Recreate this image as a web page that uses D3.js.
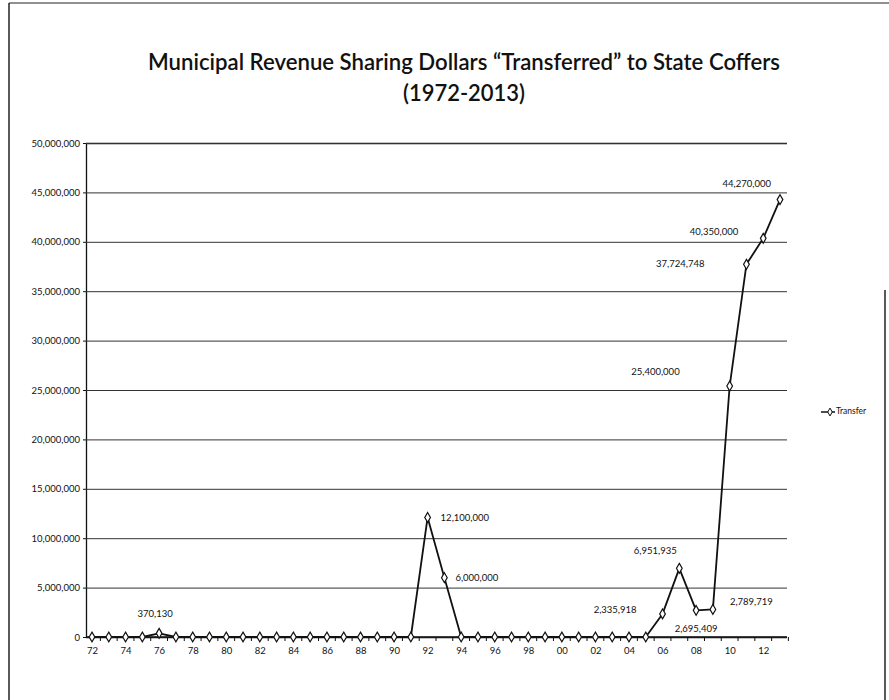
<!DOCTYPE html>
<html>
<head>
<meta charset="utf-8">
<script src="https://cdn.jsdelivr.net/npm/d3@7"></script>
<style>
  body { margin: 0; background: #fff; }
  svg text { font-family: Lato, "Open Sans", sans-serif; fill: #111; }
</style>
</head>
<body>
<div id="chart"></div>
<script>
// years 1972..2013
const years = d3.range(1972, 2014);
const transfer = [
  0, 0, 0, 0, 370130, 0, 0, 0, 0, 0,          // 72-81
  0, 0, 0, 0, 0, 0, 0, 0, 0, 0,               // 82-91
  12100000, 6000000, 0, 0, 0, 0, 0, 0, 0, 0,  // 92-01
  0, 0, 0, 0, 2335918, 6951935, 2695409, 2789719, 25400000, 37724748, // 02-11
  40350000, 44270000                           // 12-13
];
const labelledYears = [1976, 1992, 1993, 2006, 2007, 2008, 2009, 2010, 2011, 2012, 2013];
const yTicks = d3.range(0, 50000001, 5000000);
const xTickYears = years.filter(y => y % 2 === 0);
const seriesName = 'Transfer';

// where Excel put each data label, relative to its point
const labelPlace = {
  1976: { dx: -4, dy: -19, anchor: 'middle' },
  1992: { dx: 13, dy: 1, anchor: 'start' },
  1993: { dx: 11, dy: 1, anchor: 'start' },
  2006: { dx: -26, dy: -3, anchor: 'end' },
  2007: { dx: -24, dy: -17, anchor: 'middle' },
  2008: { dx: 0, dy: 19, anchor: 'middle' },
  2009: { dx: 17, dy: -7, anchor: 'start' },
  2010: { dx: -50, dy: -13, anchor: 'end' },
  2011: { dx: -42, dy: 0, anchor: 'end' },
  2012: { dx: -25, dy: -6, anchor: 'end' },
  2013: { dx: -9, dy: -15, anchor: 'end' }
};

const width = 889, height = 700;
const plot = { left: 86, right: 787, top: 143, bottom: 637 };

const svg = d3.select('#chart').append('svg')
  .attr('width', width)
  .attr('height', height);

// scanned page frame
const frame = svg.append('g').attr('stroke', '#222').attr('fill', 'none');
frame.append('line').attr('x1', 9).attr('x2', 889).attr('y1', 3).attr('y2', 3).attr('stroke-width', 1.2);
frame.append('line').attr('x1', 9).attr('x2', 9).attr('y1', 3).attr('y2', 700).attr('stroke-width', 1.5);
frame.append('line').attr('x1', 885).attr('x2', 885).attr('y1', 290).attr('y2', 700).attr('stroke-width', 1.5);

// title
const title = svg.append('g').attr('text-anchor', 'middle').attr('font-weight', 600);
title.append('text')
  .attr('x', 464).attr('y', 70)
  .attr('font-size', 23)
  .attr('textLength', 632).attr('lengthAdjust', 'spacingAndGlyphs')
  .text('Municipal Revenue Sharing Dollars \u201CTransferred\u201D to State Coffers');
title.append('text')
  .attr('x', 464).attr('y', 101)
  .attr('font-size', 23)
  .attr('textLength', 122).attr('lengthAdjust', 'spacingAndGlyphs')
  .text('(1972-2013)');

const x = d3.scalePoint()
  .domain(years)
  .range([92, 780]);

const y = d3.scaleLinear()
  .domain([0, 50000000])
  .range([plot.bottom, plot.top]);

// gridlines + y axis
const yAxis = d3.axisLeft(y)
  .tickValues(yTicks)
  .tickSize(-(plot.right - plot.left))
  .tickPadding(6)
  .tickFormat(d3.format(','));

const gy = svg.append('g')
  .attr('transform', `translate(${plot.left},0)`)
  .call(yAxis);
gy.select('.domain').attr('stroke', '#111').attr('stroke-width', 1.3);
gy.selectAll('.tick line').attr('stroke', '#333').attr('stroke-width', 1);
gy.selectAll('.tick text').attr('font-size', 9.5).attr('fill', '#111');
// short outside ticks
gy.selectAll('.tick').append('line')
  .attr('x1', -3).attr('x2', 0)
  .attr('stroke', '#111');

// x axis
const half = (x(1973) - x(1972)) / 2;
const xAxis = d3.axisBottom(x)
  .tickValues(xTickYears)
  .tickSize(0)
  .tickPadding(10)
  .tickFormat(d => String(d % 100).padStart(2, '0'));

const gx = svg.append('g')
  .attr('transform', `translate(0,${plot.bottom})`)
  .call(xAxis);
gx.select('.domain').remove();
gx.selectAll('.tick text').attr('font-size', 9.5).attr('fill', '#111');
gx.append('line')
  .attr('x1', plot.left).attr('x2', plot.right)
  .attr('stroke', '#111').attr('stroke-width', 1.3);
gx.selectAll('.cat-tick')
  .data(years)
  .join('line')
  .attr('class', 'cat-tick')
  .attr('x1', d => x(d) + half).attr('x2', d => x(d) + half)
  .attr('y1', 0).attr('y2', 4)
  .attr('stroke', '#111');

// series
const points = years.map((yr, i) => ({ year: yr, value: transfer[i] }));

const line = d3.line()
  .x(d => x(d.year))
  .y(d => y(d.value));

svg.append('path')
  .datum(points)
  .attr('fill', 'none')
  .attr('stroke', '#111')
  .attr('stroke-width', 1.8)
  .attr('stroke-linejoin', 'round')
  .attr('d', line);

const diamond = d3.symbol().type(d3.symbolDiamond).size(28);
svg.append('g')
  .selectAll('path')
  .data(points)
  .join('path')
  .attr('transform', d => `translate(${x(d.year)},${y(d.value)})`)
  .attr('d', diamond)
  .attr('fill', '#fff')
  .attr('stroke', '#111')
  .attr('stroke-width', 1.2);

// data labels
svg.append('g')
  .selectAll('text')
  .data(points.filter(d => labelledYears.includes(d.year)))
  .join('text')
  .attr('x', d => x(d.year) + labelPlace[d.year].dx)
  .attr('y', d => y(d.value) + labelPlace[d.year].dy)
  .attr('text-anchor', d => labelPlace[d.year].anchor)
  .attr('dominant-baseline', 'middle')
  .attr('font-size', 9.5)
  .text(d => d3.format(',')(d.value));

// legend
const legend = svg.append('g').attr('transform', 'translate(821,412)');
legend.append('line')
  .attr('x1', 0).attr('x2', 14)
  .attr('stroke', '#111').attr('stroke-width', 1.5);
legend.append('path')
  .attr('transform', 'translate(9,0)')
  .attr('d', d3.symbol().type(d3.symbolDiamond).size(18))
  .attr('fill', '#fff').attr('stroke', '#111');
legend.append('text')
  .attr('x', 15).attr('y', 0)
  .attr('dominant-baseline', 'middle')
  .attr('font-size', 8.5)
  .text(seriesName);
</script>
</body>
</html>
